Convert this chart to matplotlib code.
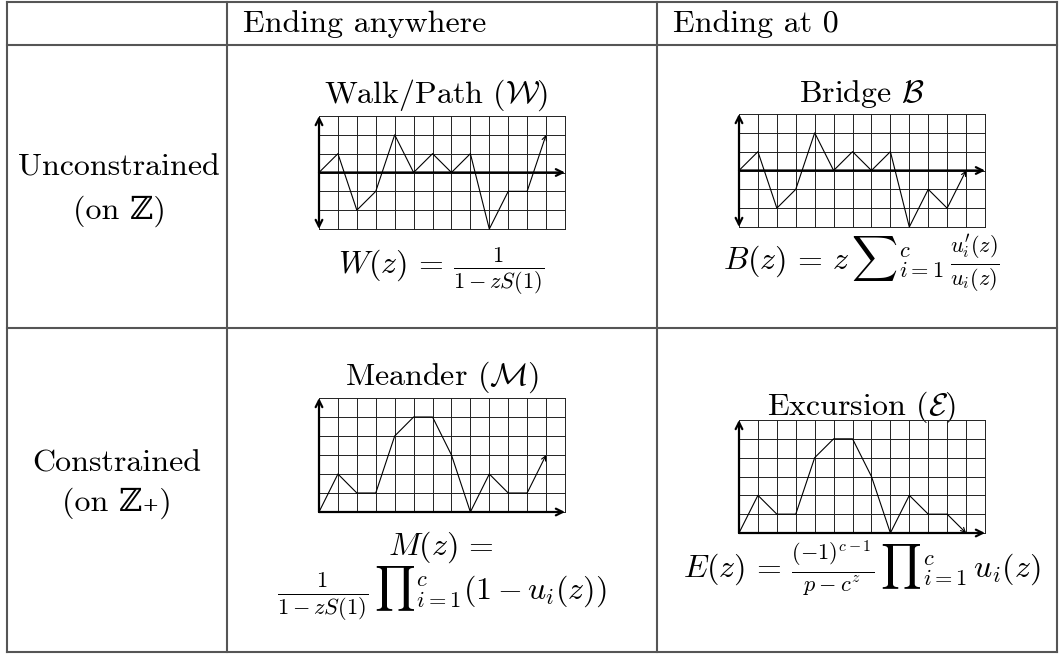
import matplotlib
matplotlib.use('Agg')
import matplotlib.pyplot as plt

plt.rcParams['font.family'] = ['cmr10', 'DejaVu Serif']
plt.rcParams['mathtext.fontset'] = 'cm'
plt.rcParams['axes.unicode_minus'] = False

W, H = 1060, 654

# --- dados dos caminhos (altura em cada passo) ---
passos = list(range(13))
walk_y = [0, 1, -2, -1, 2, 0, 1, 0, 1, -3, -1, -1, 2]
bridge_y = [0, 1, -2, -1, 2, 0, 1, 0, 1, -3, -1, -2, 0]
meander_y = [0, 2, 1, 1, 4, 5, 5, 3, 0, 2, 1, 1, 3]
excursion_y = [0, 2, 1, 1, 4, 5, 5, 3, 0, 2, 1, 1, 0]

cabecalhos = ['Ending anywhere', 'Ending at 0']
linhas_1 = ['Unconstrained', '(on ℤ)']
linhas_2 = ['Constrained', '(on ℤ₊)']
titulos = [r'Walk/Path $(\mathcal{W})$', r'Bridge $\mathcal{B}$',
           r'Meander $(\mathcal{M})$', r'Excursion $(\mathcal{E})$']
formulas = [r'$W(z)\,=\,\frac{1}{1-zS(1)}$',
            r'$B(z)\,=\,z\,{\sum}_{i=1}^{c}\,\frac{u_i^{\prime}(z)}{u_i(z)}$',
            r'$M(z)\,=$',
            r'$\frac{1}{1-zS(1)}\,{\prod}_{i=1}^{c}(1-u_i(z))$',
            r'$E(z)\,=\,\frac{(-1)^{c-1}}{p-c^z}\,{\prod}_{i=1}^{c}\,u_i(z)$']

COR_BORDA = '#555555'
FS = 23


def caixa(x0, y0, x1, y1):
    return [x0 / W, 1 - y1 / H, (x1 - x0) / W, (y1 - y0) / H]


def grade(fig, pos, ys, ymin, ymax, seta_baixo):
    ax = fig.add_axes(caixa(*pos))
    ax.set_xlim(0, 13)
    ax.set_ylim(ymin, ymax)
    ax.axis('off')
    for xv in range(14):
        ax.plot([xv, xv], [ymin, ymax], color='#222222', lw=0.7, clip_on=False)
    for yv in range(ymin, ymax + 1):
        ax.plot([0, 13], [yv, yv], color='#222222', lw=0.7, clip_on=False)
    # eixos
    estilo_y = '<->' if seta_baixo else '->'
    ax.annotate('', xy=(0, ymax), xytext=(0, ymin),
                arrowprops=dict(arrowstyle=estilo_y, lw=1.6, color='black',
                                shrinkA=0, shrinkB=0, mutation_scale=12),
                annotation_clip=False)
    ax.annotate('', xy=(13, 0), xytext=(0, 0),
                arrowprops=dict(arrowstyle='->', lw=1.6, color='black',
                                shrinkA=0, shrinkB=0, mutation_scale=12),
                annotation_clip=False)
    # caminho
    ax.plot(passos[:-1], ys[:-1], color='black', lw=0.8, clip_on=False)
    ax.annotate('', xy=(passos[-1], ys[-1]), xytext=(passos[-2], ys[-2]),
                arrowprops=dict(arrowstyle='->', lw=0.8, color='black',
                                shrinkA=0, shrinkB=0, mutation_scale=8),
                annotation_clip=False)
    return ax


fig = plt.figure(figsize=(W / 100, H / 100), dpi=100)
bg = fig.add_axes([0, 0, 1, 1])
bg.set_xlim(0, W)
bg.set_ylim(H, 0)
bg.axis('off')

# --- linhas da tabela ---
for yv in [2, 45, 328, 652]:
    bg.plot([7, 1057], [yv, yv], color=COR_BORDA, lw=1.5)
for xv in [7, 227, 657, 1057]:
    bg.plot([xv, xv], [2, 652], color=COR_BORDA, lw=1.5)

# cabeçalhos
bg.text(243, 31.5, cabecalhos[0], fontsize=FS, va='baseline', ha='left')
bg.text(673, 31.5, cabecalhos[1], fontsize=FS, va='baseline', ha='left')

# rótulos das linhas
bg.text(119, 176, linhas_1[0], fontsize=FS, va='baseline', ha='center')
bg.text(119, 219, linhas_1[1], fontsize=FS, va='baseline', ha='center')
bg.text(117, 471, linhas_2[0], fontsize=FS, va='baseline', ha='center')
bg.text(117, 511, linhas_2[1], fontsize=FS, va='baseline', ha='center')

# títulos dos painéis
bg.text(436, 103, titulos[0], fontsize=FS, va='baseline', ha='center')
bg.text(862, 102, titulos[1], fontsize=FS, va='baseline', ha='center')
bg.text(442, 385, titulos[2], fontsize=FS, va='baseline', ha='center')
bg.text(862, 415, titulos[3], fontsize=FS, va='baseline', ha='center')

# fórmulas
bg.text(441, 273, formulas[0], fontsize=FS, va='baseline', ha='center')
bg.text(861, 270, formulas[1], fontsize=FS, va='baseline', ha='center')
bg.text(441, 555, formulas[2], fontsize=FS, va='baseline', ha='center')
bg.text(442, 600, formulas[3], fontsize=FS, va='baseline', ha='center')
bg.text(862, 577, formulas[4], fontsize=FS, va='baseline', ha='center')

# --- grades ---
grade(fig, (319, 116, 565, 229), walk_y, -3, 3, True)
grade(fig, (739, 114, 985, 227), bridge_y, -3, 3, True)
grade(fig, (319, 398, 565, 512), meander_y, 0, 6, False)
grade(fig, (739, 420, 985, 533), excursion_y, 0, 6, False)

fig.savefig('out.png', dpi=100)
